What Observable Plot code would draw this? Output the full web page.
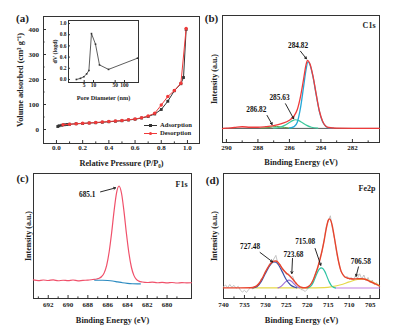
<!DOCTYPE html>
<html><head><meta charset="utf-8">
<script src="https://cdn.jsdelivr.net/npm/d3@7"></script>
<script src="https://cdn.jsdelivr.net/npm/@observablehq/plot@0.6"></script>
<style>
body{margin:0;background:#fff;}
#wrap{position:relative;width:401px;height:330px;overflow:hidden;background:#fff;font-family:"Liberation Serif","Times New Roman",serif;font-weight:bold;color:#222;}
#wrap svg{position:absolute;}
.plab{position:absolute;font-size:11px;transform:translate(-50%,-50%);white-space:nowrap;}
.leg{position:absolute;font-size:6.6px;white-space:nowrap;}
</style></head><body><div id="wrap"></div>
<script>
// ---------- (a) N2 isotherm ----------
const relP = [0.01,0.02,0.04,0.06,0.08,0.1,0.15,0.2,0.25,0.3,0.35,0.4,0.45,0.5,0.55,0.6,0.65,0.7,0.75,0.8,0.85,0.9,0.95,0.97,0.99];
const adsorption = [12,15,17,19,20,21,23,24,26,27,29,31,33,35,38,41,46,52,62,80,113,155,183,208,400];
const relPDes = [0.05,0.1,0.15,0.2,0.25,0.3,0.35,0.4,0.45,0.5,0.55,0.6,0.65,0.7,0.75,0.8,0.85,0.9,0.95,0.99];
const desorption = [19,21,23,25,26,28,30,32,34,36,39,42,47,54,65,98,132,156,185,404];
const pressureTicks = [0,0.2,0.4,0.6,0.8,1.0];
const pressureMinor = [0.1,0.3,0.5,0.7,0.9];
const volumeTicks = [0,100,200,300,400];
const volumeMinor = [50,150,250,350];
// inset: pore size distribution
const poreDiameter = [2.8,3.8,4.9,6.0,7.1,8.6,11.6,15.6,30.5,262];
const dV = [0.0,0.02,0.05,0.1,0.16,0.82,0.63,0.26,0.18,0.38];
const poreTicks = [5,10,50,100];
const dVTicks = [0,0.2,0.4,0.6,0.8,1.0];

// ---------- (b) C1s ----------
const c1sEnergy = [290.25,290,289.5,289,288.5,288,287.5,287,286.5,286,285.7,285.5,285.3,285.1,284.95,284.85,284.7,284.5,284.3,284.1,283.9,283.7,283.5,283,282,281,280.28];
const c1sEnvelope = [11.0,11.3,11.8,12.4,12.0,12.0,12.5,13.3,14.8,17.5,21,26,36,50,61,64.6,62,52,38,25,17,13,11.8,11.3,11.2,11.2,11.2];
const c1sMainE = [286.0,285.7,285.5,285.3,285.1,284.95,284.82,284.7,284.5,284.3,284.1,283.9,283.7,283.5,283.2];
const c1sMain = [11.3,12.5,16,27,44,57,63.5,61.5,51.5,37.5,24.5,16.5,12.8,11.6,11.3];
const c1sMidE = [287.0,286.6,286.3,286.0,285.8,285.63,285.4,285.2,284.9,284.6,284.2];
const c1sMid = [11.3,12,13.5,15.8,17.2,17.9,17.2,15.8,13.5,12,11.3];
const c1sHighE = [287.8,287.3,286.82,286.3,285.8];
const c1sHigh = [11.3,11.8,12.6,11.8,11.3];
const c1sBaseE = [290.25,280.28];
const c1sBase = [11.1,11.1];
const c1sTicks = [290,288,286,284,282];
const c1sMinor = [289,287,285,283,281];
const c1sLabels = ["284.82","285.63","286.82"];
const c1sLabelE = [285.45,286.63,288.10];
const c1sLabelV = [76.4,35.7,26];
const c1sArrowFromE = [285.30,286.25,287.42], c1sArrowFromV = [71.9,30.5,21.3];
const c1sArrowToE = [284.92,285.73,287.10], c1sArrowToV = [65.9,18.7,14.2];

// ---------- (c) F1s ----------
const f1sEnergy = [693.5,693,692.5,692,691.5,691,690.5,690,689.5,689,688.5,688,687.5,687.1,686.85,686.6,686.35,686.1,685.85,685.6,685.35,685.1,684.85,684.6,684.35,684.1,683.85,683.6,683.35,683.1,682.85,682.5,682,681.5,681,680.5,680,679.5,679,678.5,678,677.53];
const f1sSignal = [14.9,14.3,14.8,14.4,14.9,14.2,14.6,14.3,14.8,14.1,14.5,14.7,15.2,15.6,16.2,17.6,20.5,26.5,37.2,52.4,70.1,84.5,90,84.2,69.7,51.8,36.2,25,18.5,15.3,13.9,13.2,12.8,13.1,12.6,12.9,12.5,12.8,12.4,12.7,12.5,12.6];
const f1sBgE = [687.3,686.5,686,685.5,685,684.5,684,683.5,683,682.7];
const f1sBg = [14.6,14.6,14.4,14.0,13.3,12.6,12.1,11.8,11.7,11.7];
const f1sTicks = [692,690,688,686,684,682,680];
const f1sMinor = [693,691,689,687,685,683,681,679];
const f1sLabels = ["685.1"];
const f1sLabelE = [688.06], f1sLabelV = [83.4];
const f1sArrowFromE = [686.72], f1sArrowFromV = [85.3];
const f1sArrowToE = [685.2], f1sArrowToV = [88.5];

// ---------- (d) Fe2p ----------
const feRawE = [740,739.5,739,738.5,738,737.5,737,736.5,736,735.5,735,734.5,734,733.5,733,732.5,732,731.5,731,730.5,730,729.5,729,728.5,728,727.5,727,726.5,726,725.5,725,724.5,724,723.5,723,722.5,722,721.5,721,720.5,720,719.5,719,718.5,718,717.5,717,716.5,716,715.5,715,714.5,714,713.5,713,712.5,712,711.5,711,710.5,710,709.5,709,708.5,708,707.5,707,706.5,706,705.5,705,704.5,704,703.5,703];
const feRaw = [9.5,10.8,8.6,11.2,9.0,10.5,8.2,9.8,6.8,5.2,6.5,4.9,7.2,8.8,7.6,9.6,10.8,11.6,15.8,17.2,21.8,23.6,27.8,28.2,31.6,34.5,27.6,27.2,23.4,22.6,19.4,19.8,16.4,17.8,13.2,11.6,9.4,7.2,6.8,5.6,7.4,9.8,12.6,15.2,20.8,24.2,32.2,37.2,47.0,57.2,62.4,66.2,55.8,47.8,36.2,28.8,21.4,19.6,16.6,17.8,15.2,16.8,14.6,18.2,16.4,19.8,15.6,18.8,14.2,16.8,12.6,14.8,11.2,12.8,9.8];
const feEnvE = [740,736,733.5,732.5,732,731.5,731,730.5,730,729.5,729,728.5,728,727.5,727,726.5,726,725.5,725,724.5,724,723.5,723,722.5,722,721.5,721,720.5,720,719.5,719,718.5,718,717.5,717,716.5,716,715.5,715,714.7,714.3,714,713.5,713,712.5,712,711.5,711,710.5,710,709,708,707,706,705,704,703,702.77];
const feEnv = [8.5,8.5,8.6,9.4,10.3,12.2,14.8,17.8,21.2,24.3,26.9,28.8,29.9,30.0,29.0,26.8,24.2,22.0,20.3,19.0,17.5,15.6,13.5,11.5,10.0,9.0,8.6,8.6,9.0,10.2,12.2,15.6,20.0,25.0,31.0,38.0,46.0,55.5,62.5,63.7,61.5,57.5,48.0,38.0,29.0,22.5,19.0,17.2,16.4,16.0,15.6,15.8,15.8,15.2,13.6,12.0,10.4,10.0];
const fe727E = [733,732,731,730,729,728,727.5,727,726,725,724,723,722.5];
const fe727 = [8.5,9.5,13.5,20,26,29.3,29,27.5,21.5,15,10.8,9,8.5];
const fe723E = [727,726.5,726,725.5,725,724.4,723.8,723.3,722.8,722.3,721.8];
const fe723 = [8.5,9.2,10.5,12.3,13.8,14.7,13.8,12.2,10.4,9.1,8.5];
const fe715E = [720,719.5,719,718.5,718,717.5,717,716.7,716.3,715.8,715.3,714.8,714.3,713.8,713.3];
const fe715 = [8.5,9,10.5,13.5,17.5,21.5,24,24.5,24,21.5,17.5,13.5,10.5,9,8.5];
const fe706E = [733,720,716,714,712,710,708,706.5,705,704,703,702.77];
const fe706 = [8.5,8.5,8.7,9.5,11,13.3,15.2,15.5,14,12.5,10.8,10];
const feBaseE = [713.3,702.77];
const feBase = [8.4,8.4];
const feTicks = [740,735,730,725,720,715,710,705];
const feMinor = [737.5,732.5,727.5,722.5,717.5,712.5,707.5];
const feLabels = ["727.48","723.68","715.08","706.58"];
const feLabelE = [733.65,723.3,720.5,707.23], feLabelV = [41.8,35.2,45.8,29.3];
const feArrowFromE = [731.27,723.53,718.14,707.78], feArrowFromV = [36.8,32,40,25.3];
const feArrowToE = [728.3,723.7,716.78,708.35], feArrowToV = [29.3,20,26.6,17.8];

// ---------- helpers ----------
const zip = (xs, ys) => xs.map((x, i) => ({x, y: ys[i]}));
const ann = (labels, le, lv, fe, fv, te, tv) => labels.map((t, i) => ({t, x: le[i], y: lv[i], x1: fe[i], y1: fv[i], x2: te[i], y2: tv[i]}));
const FONT = '"Liberation Serif","Times New Roman",serif';
const baseStyle = {fontFamily: FONT, fontWeight: "bold", fontSize: "7px", color: "#222", background: "transparent", overflow: "visible"};
const wrap = document.getElementById("wrap");
function place(svg, left, top) { svg.style.left = left + "px"; svg.style.top = top + "px"; wrap.appendChild(svg); }
const txt = {text: d => d};
const xTitle = (s, dy, fs) => Plot.text([s], {...txt, frameAnchor: "bottom", textAnchor: "middle", lineAnchor: "middle", dy, fontSize: fs});
const yTitle = (s, dx, fs) => Plot.text([s], {...txt, frameAnchor: "left", textAnchor: "middle", lineAnchor: "middle", rotate: -90, dx, fontSize: fs});

function xpsAxes(ticks, minor, fh, pad, dxY, dyX) {
  return [
    Plot.frame({stroke: "#333", strokeWidth: 1}),
    Plot.axisX({ticks, tickSize: 0, tickPadding: pad, label: null, fontSize: 7}),
    Plot.tickX(ticks, {x: d => d, insetTop: fh - 3, stroke: "#333"}),
    Plot.tickX(minor, {x: d => d, insetTop: fh - 1.6, stroke: "#333"}),
    xTitle("Binding Energy (eV)", dyX, 8.3),
    yTitle("Intensity (a.u.)", dxY, 8)
  ];
}
function annMarks(data) {
  return [
    Plot.arrow(data, {x1: "x1", y1: "y1", x2: "x2", y2: "y2", stroke: "#111", strokeWidth: 0.9, headLength: 3.5}),
    Plot.text(data, {x: "x", y: "y", text: "t", fontSize: 7.3, fill: "#111"})
  ];
}

// ---------- panel (a) ----------
const adsData = zip(relP, adsorption), desData = zip(relPDes, desorption);
place(Plot.plot({
  width: 200, height: 170, marginLeft: 43, marginRight: 1, marginTop: 16, marginBottom: 27,
  style: baseStyle,
  x: {domain: [-0.099, 1.092]}, y: {domain: [-56, 452]},
  marks: [
    Plot.frame({stroke: "#333"}),
    Plot.axisX({ticks: pressureTicks, tickFormat: d3.format(".1f"), tickSize: 0, tickPadding: 1.5, label: null}),
    Plot.axisY({ticks: volumeTicks, tickSize: 0, tickPadding: 4.5, label: null}),
    Plot.tickX(pressureTicks, {x: d => d, insetTop: 124, stroke: "#333"}),
    Plot.tickX(pressureMinor, {x: d => d, insetTop: 125.4, stroke: "#333"}),
    Plot.tickY(volumeTicks, {y: d => d, insetRight: 153, stroke: "#333"}),
    Plot.tickY(volumeMinor, {y: d => d, insetRight: 154.4, stroke: "#333"}),
    xTitle("Relative Pressure (P/P₀)", 20, 8.3),
    yTitle("Volume adsorbed (cm³ g⁻¹)", -23, 8.3),
    Plot.line(adsData, {x: "x", y: "y", stroke: "#333", strokeWidth: 1}),
    Plot.dot(adsData, {x: "x", y: "y", symbol: "square", r: 1.6, fill: "#333"}),
    Plot.line(desData, {x: "x", y: "y", stroke: "#f03a3a", strokeWidth: 1}),
    Plot.dot(desData, {x: "x", y: "y", r: 1.7, fill: "#f03a3a"})
  ]
}), 0, 0);

// inset
const poreData = zip(poreDiameter, dV);
place(Plot.plot({
  width: 95, height: 90, marginLeft: 23, marginRight: 2, marginTop: 3, marginBottom: 25,
  style: {...baseStyle, fontSize: "5.5px"},
  x: {type: "log", domain: [1.56, 283]}, y: {domain: [-0.054, 1.054]},
  marks: [
    Plot.frame({stroke: "#333", fill: "white"}),
    Plot.axisX({ticks: poreTicks, tickFormat: d => d, tickSize: 0, tickPadding: 1, label: null, fontSize: 5.5}),
    Plot.axisY({ticks: dVTicks, tickFormat: d3.format(".1f"), tickSize: 0, tickPadding: 2, label: null, fontSize: 5.5}),
    Plot.tickX(poreTicks, {x: d => d, insetTop: 60, stroke: "#333"}),
    Plot.tickY(dVTicks, {y: d => d, insetRight: 68, stroke: "#333"}),
    xTitle("Pore Diameter (nm)", 15.3, 6.3),
    yTitle("dV (logd)", -13, 6),
    Plot.line(poreData, {x: "x", y: "y", stroke: "#333", strokeWidth: 0.8}),
    Plot.dot(poreData, {x: "x", y: "y", symbol: "square", r: 0.9, fill: "#333"})
  ]
}), 45, 17);

// ---------- panel (b) ----------
place(Plot.plot({
  width: 201, height: 170, marginLeft: 22, marginRight: 22, marginTop: 15, marginBottom: 28,
  style: baseStyle,
  x: {domain: [290.25, 280.28]}, y: {domain: [0, 100], axis: null},
  marks: [
    ...xpsAxes(c1sTicks, c1sMinor, 127, 3, -8, 20),
    Plot.line(zip(c1sBaseE, c1sBase), {x: "x", y: "y", stroke: "#444", strokeWidth: 0.9}),
    Plot.line(zip(c1sHighE, c1sHigh), {x: "x", y: "y", stroke: "#5c9a3c", strokeWidth: 1, curve: "monotone-x"}),
    Plot.line(zip(c1sMidE, c1sMid), {x: "x", y: "y", stroke: "#3cc89c", strokeWidth: 1.2, curve: "monotone-x"}),
    Plot.line(zip(c1sMainE, c1sMain), {x: "x", y: "y", stroke: "#24a8d8", strokeWidth: 1.3, curve: "monotone-x"}),
    Plot.line(zip(c1sEnergy, c1sEnvelope), {x: "x", y: "y", stroke: "#ef3b3b", strokeWidth: 1.3, curve: "monotone-x"}),
    ...annMarks(ann(c1sLabels, c1sLabelE, c1sLabelV, c1sArrowFromE, c1sArrowFromV, c1sArrowToE, c1sArrowToV)),
    Plot.text(["C1s"], {...txt, frameAnchor: "top-right", textAnchor: "end", lineAnchor: "middle", dx: -4, dy: 10, fontSize: 8})
  ]
}), 200, 0);

// ---------- panel (c) ----------
place(Plot.plot({
  width: 200, height: 165, marginLeft: 33, marginRight: 9, marginTop: 8, marginBottom: 32,
  style: baseStyle,
  x: {domain: [693.49, 677.53]}, y: {domain: [0, 100], axis: null},
  marks: [
    ...xpsAxes(f1sTicks, f1sMinor, 125, 3.5, -5.5, 22),
    Plot.line(zip(f1sEnergy, f1sSignal), {x: "x", y: "y", stroke: "#f0506a", strokeWidth: 1.2, curve: "monotone-x"}),
    Plot.line(zip(f1sBgE, f1sBg), {x: "x", y: "y", stroke: "#2a8ac0", strokeWidth: 1.2, curve: "monotone-x"}),
    ...annMarks(ann(f1sLabels, f1sLabelE, f1sLabelV, f1sArrowFromE, f1sArrowFromV, f1sArrowToE, f1sArrowToV)),
    Plot.text(["F1s"], {...txt, frameAnchor: "top-right", textAnchor: "end", lineAnchor: "middle", dx: -4, dy: 11, fontSize: 8})
  ]
}), 0, 165);

// ---------- panel (d) ----------
place(Plot.plot({
  width: 201, height: 165, marginLeft: 23, marginRight: 22, marginTop: 8, marginBottom: 32,
  style: baseStyle,
  x: {domain: [740, 702.77]}, y: {domain: [0, 100], axis: null},
  marks: [
    ...xpsAxes(feTicks, feMinor, 125, 3.5, -9, 22),
    Plot.line(zip(feRawE, feRaw), {x: "x", y: "y", stroke: "#b5b5b5", strokeWidth: 0.8}),
    Plot.line(zip(feBaseE, feBase), {x: "x", y: "y", stroke: "#c07ee0", strokeWidth: 1.1}),
    Plot.line(zip(fe706E, fe706), {x: "x", y: "y", stroke: "#e6d84a", strokeWidth: 1.1, curve: "monotone-x"}),
    Plot.line(zip(fe723E, fe723), {x: "x", y: "y", stroke: "#a070d8", strokeWidth: 1.1, curve: "monotone-x"}),
    Plot.line(zip(fe715E, fe715), {x: "x", y: "y", stroke: "#2ec4a4", strokeWidth: 1.2, curve: "monotone-x"}),
    Plot.line(zip(fe727E, fe727), {x: "x", y: "y", stroke: "#3c52a8", strokeWidth: 1.2, curve: "monotone-x"}),
    Plot.line(zip(feEnvE, feEnv), {x: "x", y: "y", stroke: "#e8442c", strokeWidth: 1.4, curve: "monotone-x"}),
    ...annMarks(ann(feLabels, feLabelE, feLabelV, feArrowFromE, feArrowFromV, feArrowToE, feArrowToV)),
    Plot.text(["Fe2p"], {...txt, frameAnchor: "top-right", textAnchor: "end", lineAnchor: "middle", dx: -4, dy: 15, fontSize: 8})
  ]
}), 200, 165);

// ---------- panel letters & legend ----------
[["(a)", 22.5, 18], ["(b)", 211.5, 18], ["(c)", 22.5, 178], ["(d)", 212.5, 180]].forEach(([t, x, y]) => {
  const d = document.createElement("div"); d.className = "plab"; d.textContent = t;
  d.style.left = x + "px"; d.style.top = y + "px"; wrap.appendChild(d);
});
const legendNames = ["Adsorption", "Desorption"];
const legendColors = ["#333", "#f03a3a"];
const legendShapes = ["0", "50%"];
legendNames.forEach((name, i) => {
  const y = 125.7 + i * 7.5;
  const line = document.createElement("div");
  line.style.cssText = `position:absolute;left:144px;top:${y - 0.5}px;width:13px;height:1px;background:${legendColors[i]};`;
  const mk = document.createElement("div");
  mk.style.cssText = `position:absolute;left:149px;top:${y - 1.7}px;width:3.4px;height:3.4px;background:${legendColors[i]};border-radius:${legendShapes[i]};`;
  const t = document.createElement("div"); t.className = "leg"; t.textContent = name;
  t.style.left = "160px"; t.style.top = (y - 4.5) + "px";
  wrap.append(line, mk, t);
});
</script></body></html>
